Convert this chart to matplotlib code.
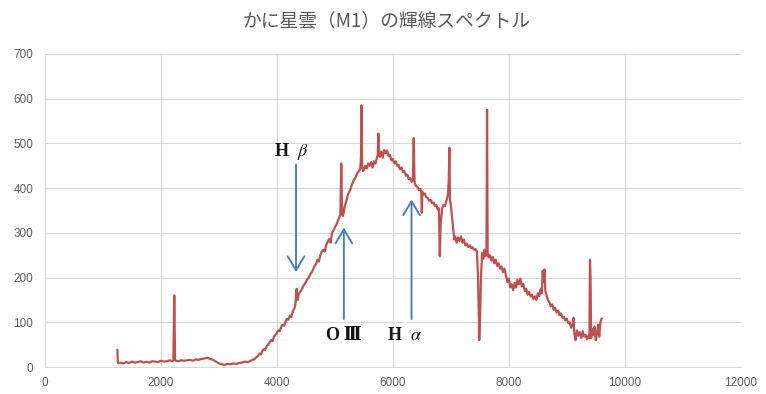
import matplotlib
matplotlib.use("Agg")
import matplotlib.pyplot as plt

plt.rcParams['font.family'] = ['Noto Sans CJK JP', 'DejaVu Sans']
plt.rcParams['mathtext.fontset'] = 'stix'

# Crab Nebula spectrum: wavelength (Å) and relative intensity
wavelength = [
    1250, 1255, 1265, 1300, 1350, 1400, 1450, 1500, 1550, 1600, 1650, 1700,
    1750, 1800, 1850, 1900, 1950, 2000, 2050, 2100, 2150, 2200, 2215, 2230,
    2245, 2260, 2300, 2350, 2400, 2450, 2500, 2550, 2600, 2650, 2700, 2750,
    2800, 2850, 2900, 2950, 3000, 3050, 3100, 3150, 3200, 3250, 3300, 3350,
    3400, 3450, 3500, 3550,
    3600, 3625, 3650, 3675, 3700, 3725, 3750, 3775, 3800, 3825, 3850, 3875,
    3900, 3925, 3950, 3975, 4000, 4025, 4050, 4075, 4100, 4125, 4150, 4175,
    4200, 4225, 4250, 4275, 4300, 4320, 4340, 4360, 4375, 4400, 4425, 4450,
    4475, 4500, 4525, 4550, 4575, 4600, 4625, 4650, 4675, 4700, 4725, 4750,
    4775, 4800, 4825, 4850, 4875, 4900, 4925, 4950, 4975, 5000, 5025, 5050,
    5075, 5095, 5110, 5125, 5140, 5160, 5175, 5200, 5225, 5250, 5275, 5300,
    5325, 5350, 5375, 5400, 5425, 5440, 5450, 5460, 5470, 5485, 5500, 5525,
    5550, 5575, 5600, 5625, 5650, 5675, 5700, 5725, 5740, 5750, 5760, 5775,
    5800, 5825, 5850, 5875, 5900, 5925, 5950, 5975, 6000, 6025, 6050, 6075,
    6100, 6125, 6150, 6175, 6200, 6225, 6250, 6275, 6300, 6325, 6345, 6360,
    6375, 6400, 6425, 6450, 6475, 6490, 6500, 6510, 6525, 6550, 6575, 6600,
    6625, 6650, 6675, 6700, 6725, 6750, 6775, 6795, 6810, 6825, 6850, 6875,
    6900, 6925, 6950, 6965, 6975, 6985, 7000, 7025, 7050, 7060, 7075, 7100,
    7125, 7150, 7175, 7200, 7225, 7250, 7275, 7300, 7325, 7350, 7375, 7400,
    7425, 7450, 7470, 7490, 7505, 7520, 7540, 7560, 7580, 7600, 7615, 7625,
    7635, 7650, 7675, 7700, 7725, 7750, 7775, 7800, 7825, 7850, 7875, 7900,
    7925, 7950, 7975, 8000, 8025, 8050, 8075, 8100, 8125, 8150, 8175, 8200,
    8225, 8250, 8275, 8300, 8325, 8350, 8375, 8400, 8425, 8450, 8475, 8500,
    8525, 8550, 8570, 8585, 8600, 8615, 8630, 8650, 8675, 8700, 8725, 8750,
    8775, 8800, 8825, 8850, 8875, 8900, 8925, 8950, 8975, 9000, 9025, 9050,
    9075, 9100, 9115, 9130, 9150, 9175, 9200, 9225, 9250, 9275, 9300, 9325,
    9350, 9375, 9390, 9400, 9410, 9420, 9440, 9460, 9480, 9500, 9520, 9540,
    9560, 9580, 9600,
]
intensity = [
    38, 12, 8, 10, 8, 11, 9, 12, 10, 11, 13, 10,
    12, 10, 13, 12, 11, 14, 12, 13, 15, 13, 15, 160,
    16, 14, 13, 15, 14, 15, 16, 14, 17, 16, 18, 19,
    21, 18, 16, 12, 8, 6, 5, 7, 6, 8, 7, 9,
    10, 12, 11, 14,
    17, 19, 22, 25, 30, 28, 36, 40, 38, 47, 50, 55,
    60, 58, 68, 72, 76, 82, 80, 90, 94, 92, 102, 108,
    106, 115, 112, 125, 130, 140, 175, 150, 162, 168, 172, 180,
    185, 190, 196, 200, 207, 212, 218, 226, 230, 240, 236, 250,
    258, 262, 258, 272, 280, 286, 278, 300, 305, 312, 318, 326,
    335, 340, 455, 345, 338, 352, 362, 372, 385, 392, 400, 410,
    418, 422, 430, 436, 440, 446, 470, 585, 450, 438, 442, 450,
    444, 455, 450, 458, 446, 460, 455, 468, 475, 522, 480, 470,
    482, 468, 485, 478, 484, 472, 475, 462, 465, 455, 460, 450,
    452, 442, 446, 436, 438, 428, 430, 420, 422, 414, 418, 512,
    412, 405, 402, 396, 398, 392, 345, 392, 386, 388, 380, 378,
    372, 374, 366, 368, 360, 362, 352, 355, 248, 320, 355, 362,
    360, 372, 385, 420, 490, 375, 362, 330, 300, 285, 292, 278,
    290, 282, 292, 278, 285, 272, 276, 268, 272, 266, 268, 262,
    264, 258, 200, 60, 110, 200, 255, 242, 262, 248, 258, 575,
    255, 245, 250, 238, 246, 232, 240, 226, 232, 220, 225, 212,
    220, 205, 190, 198, 178, 185, 172, 188, 178, 195, 185, 198,
    180, 186, 170, 175, 162, 168, 158, 162, 152, 158, 150, 165,
    158, 175, 165, 215, 190, 218, 170, 160, 150, 145, 136, 140,
    128, 132, 122, 126, 116, 120, 110, 112, 104, 108, 98, 100,
    88, 95, 110, 75, 60, 82, 70, 78, 65, 80, 68, 72,
    62, 70, 65, 240, 200, 65, 85, 72, 90, 60, 75, 95,
    68, 100, 108,
]

# Emission-line markers: label, arrow x, arrow tail y, arrow head y, label x, label y
line_labels = ['H  $\\beta$', 'O\u2009\u2162', 'H  $\\alpha$']
line_x = [4330, 5155, 6322]
arrow_tail = [459, 101, 101]
arrow_head = [206, 318, 381]
label_x = [4250, 5163, 6207]
label_y = [481, 70, 70]

fig = plt.figure(figsize=(7.66, 3.94), dpi=100)
ax = fig.add_axes([0.0587, 0.0685, 0.9083, 0.7945])

ax.plot(wavelength, intensity, color='#C0504D', linewidth=1.6, zorder=3)

ax.set_xlim(0, 12000)
ax.set_ylim(0, 700)
ax.set_xticks(range(0, 12001, 2000))
ax.set_yticks(range(0, 701, 100))
ax.grid(True, color='#D9D9D9', linewidth=0.8)
ax.set_axisbelow(True)
for side in ['top', 'right', 'left']:
    ax.spines[side].set_visible(False)
ax.spines['bottom'].set_color('#D9D9D9')
ax.tick_params(length=0, labelsize=8.5, labelcolor='#5F5F5F')
ax.tick_params(axis='y', pad=8.5)
ax.tick_params(axis='x', pad=7)
for lab in ax.get_xticklabels() + ax.get_yticklabels():
    lab.set_family(['Liberation Sans', 'DejaVu Sans'])

for txt, x, y0, y1, lx, ly in zip(line_labels, line_x, arrow_tail, arrow_head, label_x, label_y):
    ax.annotate('', xy=(x, y1), xytext=(x, y0),
                arrowprops=dict(arrowstyle='->,head_length=1.0,head_width=0.6',
                                color='#4A7EBB', linewidth=1.4), zorder=4)
    ax.text(lx, ly, txt, ha='center', va='center', fontsize=13,
            family=['Liberation Serif', 'DejaVu Serif', 'Noto Sans CJK JP'],
            weight='bold', color='#141414', zorder=5)

fig.suptitle('かに星雲（M1）の輝線スペクトル', x=0.505, y=0.975,
             fontsize=13.5, color='#595959')

fig.savefig('out.png', dpi=100)
